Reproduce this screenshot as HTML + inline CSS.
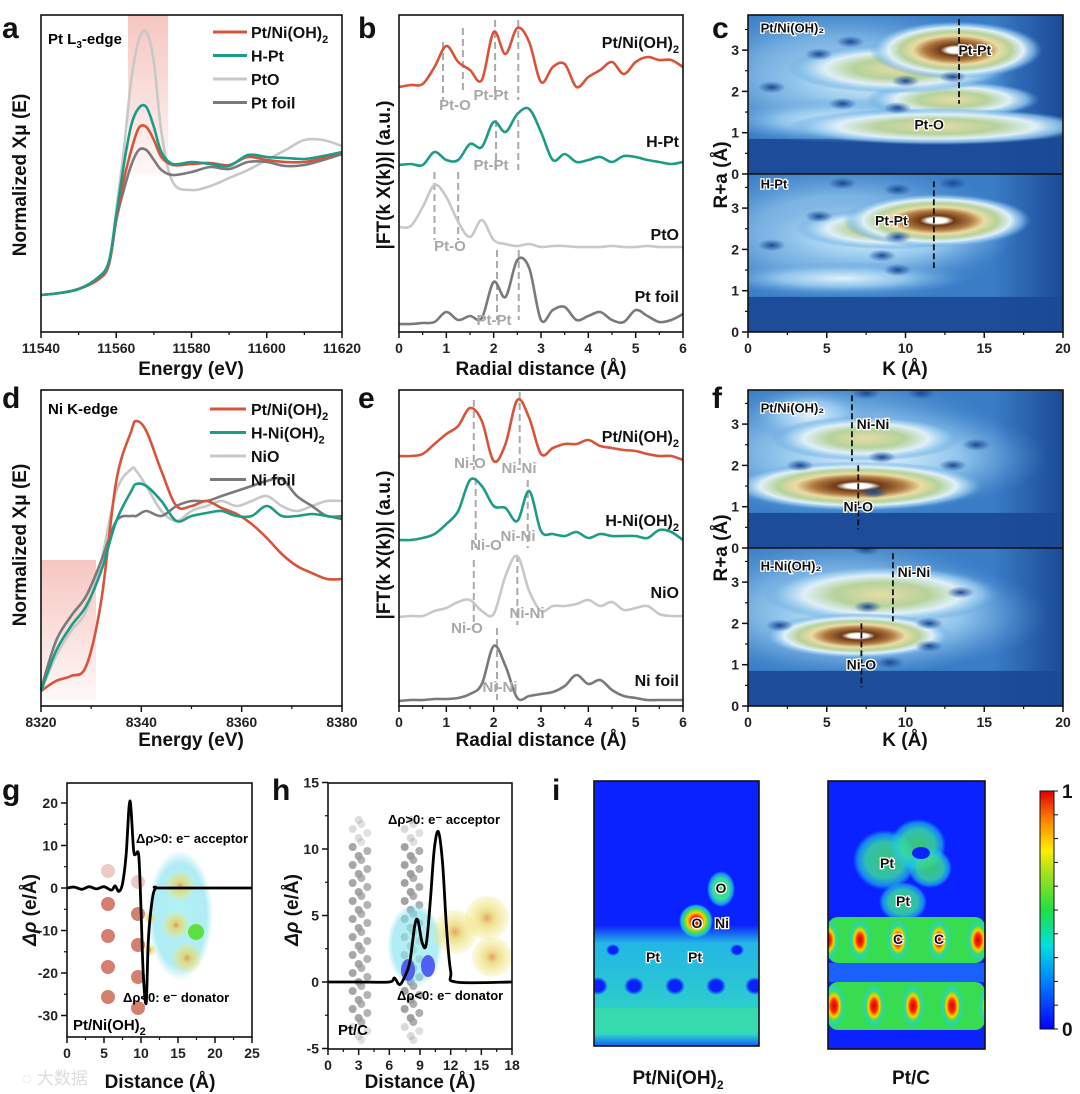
<!DOCTYPE html>
<html><head><meta charset="utf-8"><style>
html,body{margin:0;padding:0;background:#fff;}
svg{display:block;font-family:"Liberation Sans","Noto Sans CJK SC",sans-serif;}
.tk{font-size:14px;font-weight:bold;fill:#222;}
.ax{font-size:19px;font-weight:bold;fill:#111;}
.pl{font-size:30px;font-weight:bold;fill:#111;}
.lg{font-size:16px;font-weight:bold;fill:#111;}
.gl{font-size:15px;font-weight:bold;fill:#a8a8a8;}
.hl{font-size:14px;font-weight:bold;fill:#111;stroke:#fff;stroke-width:2.5px;paint-order:stroke;}
</style></head><body>
<svg id="fig" width="1080" height="1094" viewBox="0 0 1080 1094">
<defs>
<radialGradient id="gHot"><stop offset="0" stop-color="#fff"/><stop offset="0.1" stop-color="#fff"/><stop offset="0.18" stop-color="#6e3a14"/><stop offset="0.36" stop-color="#b07a42"/><stop offset="0.5" stop-color="#eadca2"/><stop offset="0.64" stop-color="#b6d29a"/><stop offset="0.78" stop-color="#dff0f8"/><stop offset="0.9" stop-color="#8cc4ec" stop-opacity="0.7"/><stop offset="1" stop-color="#5a9ad8" stop-opacity="0"/></radialGradient>
<radialGradient id="gWarm"><stop offset="0" stop-color="#e6dca6"/><stop offset="0.4" stop-color="#b6d29a"/><stop offset="0.66" stop-color="#dff0f8"/><stop offset="0.86" stop-color="#8cc4ec" stop-opacity="0.8"/><stop offset="1" stop-color="#5a9ad8" stop-opacity="0"/></radialGradient>
<radialGradient id="gCool"><stop offset="0" stop-color="#e2f2fa"/><stop offset="0.5" stop-color="#9acdf0" stop-opacity="0.85"/><stop offset="1" stop-color="#5a9ad8" stop-opacity="0"/></radialGradient>
<radialGradient id="gDark"><stop offset="0" stop-color="#1a4a96"/><stop offset="1" stop-color="#1a4a96" stop-opacity="0"/></radialGradient>
<radialGradient id="gJet"><stop offset="0" stop-color="#d00000"/><stop offset="0.3" stop-color="#ff3000"/><stop offset="0.5" stop-color="#ffd000"/><stop offset="0.7" stop-color="#40e050"/><stop offset="0.88" stop-color="#20d0e0" stop-opacity="0.8"/><stop offset="1" stop-color="#20d0e0" stop-opacity="0"/></radialGradient>
<radialGradient id="gGreen"><stop offset="0" stop-color="#40e060"/><stop offset="0.6" stop-color="#38dca0"/><stop offset="0.85" stop-color="#20c8e8" stop-opacity="0.7"/><stop offset="1" stop-color="#20c8e8" stop-opacity="0"/></radialGradient>
<radialGradient id="gHole"><stop offset="0" stop-color="#0a20ff"/><stop offset="0.6" stop-color="#0a20ff"/><stop offset="1" stop-color="#0a20ff" stop-opacity="0"/></radialGradient>
<radialGradient id="gCyanB"><stop offset="0" stop-color="#9ff0f0" stop-opacity="0.8"/><stop offset="0.8" stop-color="#7ee0ee" stop-opacity="0.6"/><stop offset="1" stop-color="#7ee0ee" stop-opacity="0"/></radialGradient>
<radialGradient id="gYel"><stop offset="0" stop-color="#e08a40"/><stop offset="0.3" stop-color="#e8d060" stop-opacity="0.9"/><stop offset="1" stop-color="#f0e870" stop-opacity="0.3"/></radialGradient>
<linearGradient id="gPink" x1="0" y1="0" x2="0" y2="1"><stop offset="0" stop-color="#f4b8b0" stop-opacity="0.8"/><stop offset="1" stop-color="#f4b8b0" stop-opacity="0.1"/></linearGradient>
<linearGradient id="gJetBar" x1="0" y1="1" x2="0" y2="0"><stop offset="0" stop-color="#0000ff"/><stop offset="0.2" stop-color="#0080ff"/><stop offset="0.35" stop-color="#00e0e0"/><stop offset="0.5" stop-color="#20e040"/><stop offset="0.65" stop-color="#a0e020"/><stop offset="0.75" stop-color="#ffee00"/><stop offset="0.88" stop-color="#ff8000"/><stop offset="1" stop-color="#e00000"/></linearGradient>
<linearGradient id="gRight" x1="0" y1="0" x2="1" y2="0"><stop offset="0" stop-color="#1a4a96" stop-opacity="0"/><stop offset="1" stop-color="#1a4a96"/></linearGradient>
<linearGradient id="gBandL" x1="0" y1="0" x2="0" y2="1"><stop offset="0" stop-color="#28d0e0" stop-opacity="0"/><stop offset="0.15" stop-color="#28d0e0" stop-opacity="0.85"/><stop offset="0.9" stop-color="#30d8c0"/><stop offset="1" stop-color="#1060ff"/></linearGradient>
<clipPath id="cTop"><rect x="748" y="15" width="315" height="159"/></clipPath>
<clipPath id="cBot"><rect x="748" y="174" width="315" height="158"/></clipPath>
<clipPath id="fTop"><rect x="748" y="390" width="315" height="158"/></clipPath>
<clipPath id="fBot"><rect x="748" y="548" width="315" height="158"/></clipPath>
<clipPath id="iL"><rect x="594" y="781" width="165" height="265"/></clipPath>
<clipPath id="iR"><rect x="828" y="781" width="157" height="268"/></clipPath>
<clipPath id="gClip"><rect x="67" y="783" width="185" height="254"/></clipPath>
<clipPath id="hClip"><rect x="328" y="783" width="184" height="262"/></clipPath>
</defs>

<text class="pl" x="2" y="38">a</text>
<text class="pl" x="358" y="38">b</text>
<text class="pl" x="712" y="38">c</text>
<text class="pl" x="2" y="408">d</text>
<text class="pl" x="358" y="408">e</text>
<text class="pl" x="712" y="408">f</text>
<text class="pl" x="2" y="800">g</text>
<text class="pl" x="272" y="800">h</text>
<text class="pl" x="552" y="800">i</text>

<rect x="128" y="15" width="40" height="160" fill="url(#gPink)"/>
<rect x="41" y="560" width="55" height="140" fill="url(#gPink)"/>

<g id="layer-heat"></g>
<g id="layer-i"></g>
<g id="layer-gh"></g>
<g id="layer-lines"></g>

<text x="48" y="44" style="font-size:15px;font-weight:bold">Pt L<tspan dy="4" font-size="10">3</tspan><tspan dy="-4">-edge</tspan></text>
<text x="48" y="414" style="font-size:15px;font-weight:bold">Ni K-edge</text>
<text class="ax" x="191" y="375" text-anchor="middle">Energy (eV)</text>
<text class="ax" x="191" y="746" text-anchor="middle">Energy (eV)</text>
<text class="ax" x="541" y="375" text-anchor="middle">Radial distance (Å)</text>
<text class="ax" x="541" y="746" text-anchor="middle">Radial distance (Å)</text>
<text class="ax" x="905" y="375" text-anchor="middle">K (Å)</text>
<text class="ax" x="905" y="746" text-anchor="middle">K (Å)</text>
<text class="ax" transform="translate(26,175) rotate(-90)" text-anchor="middle">Normalized Xμ (E)</text>
<text class="ax" transform="translate(26,545) rotate(-90)" text-anchor="middle">Normalized Xμ (E)</text>
<text class="ax" transform="translate(390,175) rotate(-90)" text-anchor="middle">|FT(k X(k))| (a.u.)</text>
<text class="ax" transform="translate(390,545) rotate(-90)" text-anchor="middle">|FT(k X(k))| (a.u.)</text>
<text class="ax" transform="translate(727,175) rotate(-90)" text-anchor="middle">R+a (Å)</text>
<text class="ax" transform="translate(727,548) rotate(-90)" text-anchor="middle">R+a (Å)</text>
<text class="ax" x="160" y="1088" text-anchor="middle">Distance (Å)</text>
<text class="ax" x="420" y="1088" text-anchor="middle">Distance (Å)</text>
<text class="ax" transform="translate(36,910) rotate(-90)" text-anchor="middle"><tspan font-style="italic">Δρ</tspan>  (e/Å)</text>
<text class="ax" transform="translate(298,910) rotate(-90)" text-anchor="middle"><tspan font-style="italic">Δρ</tspan>  (e/Å)</text>
<text class="ax" x="678" y="1084" text-anchor="middle">Pt/Ni(OH)<tspan dy="5" font-size="12">2</tspan></text>
<text class="ax" x="911" y="1084" text-anchor="middle">Pt/C</text>
<text x="22" y="1084" style="font-size:17px;fill:#ddd">◌ 大数据</text>
</svg>
<script>
var NS='http://www.w3.org/2000/svg';
var svg=document.getElementById('fig');
function mk(parent,tag,attrs,name){var el=document.createElementNS(NS,tag);for(var k in attrs)el.setAttribute(k,attrs[k]);


parent.appendChild(el);return el;}
function txt(parent,x,y,s,cls,anchor,name,extra){var t=mk(parent,'text',{x:x,y:y,'class':cls,'text-anchor':anchor||'start'},name);t.textContent=s;if(extra)for(var k in extra)t.setAttribute(k,extra[k]);return t;}

// ---------------- DATA ----------------
var aEnergy=[11540,11545,11550,11555,11558,11560,11562,11564,11566,11568,11570,11572,11575,11580,11585,11590,11595,11600,11605,11610,11615,11620];
var aPtNi=[37,39,43,52,67,112,152,182,204,205,192,175,167,168,169,167,175,172,170,170,174,180];
var aHPt=[37,39,43,54,70,117,167,207,224,225,205,180,168,170,168,166,177,175,174,173,176,180];
var aPtO=[37,39,43,52,67,122,182,252,292,300,270,200,150,142,146,154,162,172,182,192,192,186];
var aPtFoil=[37,39,43,52,67,112,142,167,182,182,172,162,157,160,165,163,170,170,166,167,172,178];

var rGrid=[0,0.25,0.5,0.75,1,1.25,1.5,1.75,2,2.25,2.5,2.75,3,3.25,3.5,3.75,4,4.25,4.5,4.75,5,5.25,5.5,5.75,6];
var bPtNi=[245,247,248,265,286,270,262,252,300,278,304,290,250,265,268,245,255,262,270,258,270,275,272,272,265];
var bHPt=[167,168,167,180,172,172,188,185,210,200,218,223,200,172,178,170,172,175,170,176,175,172,170,168,170];
var bPtO=[105,106,125,147,135,110,95,112,92,88,86,88,85,86,86,85,85,85,86,85,85,86,85,85,85];
var bPtFoil=[8,8,9,10,20,12,16,14,50,35,72,64,12,22,25,12,16,20,12,10,22,16,10,12,18];

var dEnergy=[8320,8323,8326,8329,8332,8335,8338,8339,8341,8344,8347,8350,8353,8356,8359,8362,8365,8368,8371,8374,8377,8380];
var dPtNi=[15,25,30,40,105,225,275,285,275,235,200,200,205,198,192,182,168,152,140,133,127,127];
var dHNi=[15,55,80,100,135,185,215,222,220,205,185,190,193,195,190,190,200,190,190,192,190,187];
var dNiO=[15,50,75,95,145,215,237,235,220,195,185,195,200,205,200,205,210,200,195,200,205,205];
var dNiFoil=[17,65,90,110,145,185,190,190,195,190,200,205,205,210,215,220,225,227,210,200,190,190];

var ePtNi=[250,250,252,262,272,280,298,285,245,262,306,288,252,258,262,262,266,260,258,256,255,252,250,250,246];
var eHNi=[166,166,168,172,182,195,226,220,200,198,185,215,175,172,170,174,168,172,170,170,170,168,176,174,166];
var eNiO=[89,90,90,95,98,104,106,95,92,130,150,115,95,100,100,102,106,100,104,96,98,100,92,90,90];
var eNiFoil=[5,6,6,7,7,8,12,22,60,40,8,10,12,14,20,31,22,26,16,10,8,6,6,6,6];

var gDist=[0,1,2,3,4,5,6,6.5,7,7.5,8,8.5,9,9.3,9.7,10,10.3,10.7,11,11.5,12,13,25];
var gRho=[0,0.2,-0.3,0.3,-0.2,0.3,-0.5,0.5,-0.8,1,8,20.5,9,8,7.5,-5,-20,-27,-12,-3,0,0,0];
var hDist=[0,3,6,6.5,7,7.5,8,8.5,8.8,9.2,9.6,10,10.4,10.8,11.2,11.6,12,12.5,18];
var hRho=[0,0,0,0.3,-0.2,0.4,1.5,4.3,4.6,3,2.8,6,10,11.3,9,4,0.8,0,0];

var cTopBlobs=[[8,2.3,9,1.2,'cool'],[6,1.3,8,0.55,'cool'],[13,1.8,5.5,0.45,'warm'],[9.5,2.55,7,0.6,'warm'],[12,1.15,9.5,0.45,'warm'],[13.2,3.0,5.5,0.7,'hot']];
var cTopDark=[[6.5,3.2],[10,2.25],[4.5,2.9],[13,2.35],[9.5,1.6],[6,1.7],[1.5,2.1]];
var cBotBlobs=[[8,2.3,9,1.0,'cool'],[6,1.3,8,0.4,'cool'],[9,2.5,6,0.5,'warm'],[12,2.7,6,0.65,'hot']];
var cBotDark=[[9.5,3.45],[4.5,2.8],[9.5,2.3],[8.5,1.85],[9.5,1.5],[6,3.6],[13,3.6],[1.5,2.1]];
var fTopBlobs=[[8,2.2,11,1.3,'cool'],[4,3.2,4,0.7,'cool'],[7.5,2.65,6,0.55,'warm'],[7,1.5,8,0.6,'hot']];
var fTopDark=[[3.3,2],[8.5,2.2],[13,2],[14.5,2.5],[7.5,3.75],[11,3.75],[8,1.35]];
var fBotBlobs=[[8,2.2,11,1.4,'cool'],[8.5,2.7,7.5,0.7,'warm'],[7,1.7,6,0.55,'hot']];
var fBotDark=[[7.6,2.4],[11.5,2.0],[13.5,2.75],[11.5,1.45],[2,1.95],[7.5,3.8],[9,1.05]];

// ---------------- helpers ----------------
function smooth(pts){var d='M'+pts[0][0].toFixed(1)+','+pts[0][1].toFixed(1);
for(var i=0;i<pts.length-1;i++){var p0=pts[i-1]||pts[i],p1=pts[i],p2=pts[i+1],p3=pts[i+2]||p2;
var c1x=p1[0]+(p2[0]-p0[0])/6,c1y=p1[1]+(p2[1]-p0[1])/6,c2x=p2[0]-(p3[0]-p1[0])/6,c2y=p2[1]-(p3[1]-p1[1])/6;
d+=' C'+c1x.toFixed(1)+','+c1y.toFixed(1)+' '+c2x.toFixed(1)+','+c2y.toFixed(1)+' '+p2[0].toFixed(1)+','+p2[1].toFixed(1);}return d;}
function series(parent,xs,ys,sx,sy,color,w,name){var pts=xs.map(function(x,i){return [sx(x),sy(ys[i])];});
return mk(parent,'path',{d:smooth(pts),fill:'none',stroke:color,'stroke-width':w,'stroke-linejoin':'round'},name);}
function frame(parent,x0,y0,x1,y1,name){mk(parent,'rect',{x:x0,y:y0,width:x1-x0,height:y1-y0,fill:'none',stroke:'#111','stroke-width':1.6},name);}
function xAxis(parent,sx,yb,ticks,minor,labels,prefix){ticks.forEach(function(t,i){
mk(parent,'line',{x1:sx(t),x2:sx(t),y1:yb,y2:yb+6,stroke:'#111','stroke-width':1.5},prefix+'-x-tick');
txt(parent,sx(t),yb+21,labels[i],'tk','middle',prefix+'-x-tick-label');});
minor.forEach(function(t){mk(parent,'line',{x1:sx(t),x2:sx(t),y1:yb,y2:yb+3,stroke:'#111','stroke-width':1.2},prefix+'-x-minor-tick');});}
function yAxis(parent,sy,xl,ticks,minor,labels,prefix){ticks.forEach(function(t,i){
mk(parent,'line',{x1:xl-6,x2:xl,y1:sy(t),y2:sy(t),stroke:'#111','stroke-width':1.5},prefix+'-y-tick');
txt(parent,xl-9,sy(t)+5,labels[i],'tk','end',prefix+'-y-tick-label');});
minor.forEach(function(t){mk(parent,'line',{x1:xl-3,x2:xl,y1:sy(t),y2:sy(t),stroke:'#111','stroke-width':1.2},prefix+'-y-minor-tick');});}

var L=document.getElementById('layer-lines');
var RED='#d8533a',GRN='#1c9c86',LG='#c8c8c8',DG='#7a7a7a';

// ---------------- panel a ----------------
var axA=function(e){return 41+(e-11540)/80*301;},ayA=function(v){return 332-v;};
series(L,aEnergy,aPtO,axA,ayA,LG,2.6,'a-line-pto');
series(L,aEnergy,aPtFoil,axA,ayA,DG,2.6,'a-line-pt-foil');
series(L,aEnergy,aPtNi,axA,ayA,RED,2.6,'a-line-pt-ni-oh2');
series(L,aEnergy,aHPt,axA,ayA,GRN,2.6,'a-line-h-pt');
frame(L,41,15,342,332,'a-plot-frame');
xAxis(L,axA,332,[11540,11560,11580,11600,11620],[11550,11570,11590,11610],['11540','11560','11580','11600','11620'],'a');
var legA=[['Pt/Ni(OH)','2',RED],['H-Pt','',GRN],['PtO','',LG],['Pt foil','',DG]];
legA.forEach(function(l,i){var y=32+i*23.5;
mk(L,'line',{x1:213,x2:247,y1:y,y2:y,stroke:l[2],'stroke-width':3},'a-legend-swatch');
var t=txt(L,251,y+6,l[0],'lg','start','a-legend-entry');if(l[1]){var s=document.createElementNS(NS,'tspan');s.setAttribute('dy','5');s.setAttribute('font-size','11');s.textContent=l[1];t.appendChild(s);}});

// ---------------- panel b ----------------
var axB=function(r){return 399+r/6*284;},ayB=function(v){return 332-v;};
[[0.93,42,100],[1.35,28,90],[2.03,20,100],[2.52,20,100]].forEach(function(d){mk(L,'line',{x1:axB(d[0]),x2:axB(d[0]),y1:d[1],y2:d[2],stroke:'#aaa','stroke-width':2,'stroke-dasharray':'7,4'},'b-guide-line');});
[[2.05,120,170],[2.52,120,170],[0.75,172,240],[1.25,172,240],[2.07,250,320],[2.53,250,320]].forEach(function(d){mk(L,'line',{x1:axB(d[0]),x2:axB(d[0]),y1:d[1],y2:d[2],stroke:'#aaa','stroke-width':2,'stroke-dasharray':'7,4'},'b-guide-line');});
series(L,rGrid,bPtNi,axB,ayB,RED,2.6,'b-line-pt-ni-oh2');
series(L,rGrid,bHPt,axB,ayB,GRN,2.6,'b-line-h-pt');
series(L,rGrid,bPtO,axB,ayB,LG,2.6,'b-line-pto');
series(L,rGrid,bPtFoil,axB,ayB,DG,2.6,'b-line-pt-foil');
txt(L,455,110,'Pt-O','gl','middle','b-label-pt-o');
txt(L,491,100,'Pt-Pt','gl','middle','b-label-pt-pt');
txt(L,491,170,'Pt-Pt','gl','middle','b-label-pt-pt-2');
txt(L,450,251,'Pt-O','gl','middle','b-label-pt-o-2');
txt(L,494,325,'Pt-Pt','gl','middle','b-label-pt-pt-3');
var bl=txt(L,679,48,'Pt/Ni(OH)','lg','end','b-series-label-pt-ni');var bs=document.createElementNS(NS,'tspan');bs.setAttribute('dy','5');bs.setAttribute('font-size','11');bs.textContent='2';bl.appendChild(bs);
txt(L,679,147,'H-Pt','lg','end','b-series-label-h-pt');
txt(L,679,240,'PtO','lg','end','b-series-label-pto');
txt(L,679,302,'Pt foil','lg','end','b-series-label-pt-foil');
frame(L,399,15,683,332,'b-plot-frame');
xAxis(L,axB,332,[0,1,2,3,4,5,6],[0.5,1.5,2.5,3.5,4.5,5.5],['0','1','2','3','4','5','6'],'b');

// ---------------- panel d ----------------
var axD=function(e){return 41+(e-8320)/60*301;},ayD=function(v){return 706-v;};
series(L,dEnergy,dNiO,axD,ayD,LG,2.6,'d-line-nio');
series(L,dEnergy,dNiFoil,axD,ayD,DG,2.6,'d-line-ni-foil');
series(L,dEnergy,dPtNi,axD,ayD,RED,2.6,'d-line-pt-ni-oh2');
series(L,dEnergy,dHNi,axD,ayD,GRN,2.6,'d-line-h-ni-oh2');
frame(L,41,390,342,706,'d-plot-frame');
xAxis(L,axD,706,[8320,8340,8360,8380],[8330,8350,8370],['8320','8340','8360','8380'],'d');
var legD=[['Pt/Ni(OH)','2',RED],['H-Ni(OH)','2',GRN],['NiO','',LG],['Ni foil','',DG]];
legD.forEach(function(l,i){var y=409+i*23.5;
mk(L,'line',{x1:210,x2:246,y1:y,y2:y,stroke:l[2],'stroke-width':3},'d-legend-swatch');
var t=txt(L,251,y+6,l[0],'lg','start','d-legend-entry');if(l[1]){var s=document.createElementNS(NS,'tspan');s.setAttribute('dy','5');s.setAttribute('font-size','11');s.textContent=l[1];t.appendChild(s);}});

// ---------------- panel e ----------------
var ayE=function(v){return 706-v;};
[[1.58,400,470],[2.55,392,470],[1.62,478,548],[2.72,480,548],[1.58,560,628],[2.5,555,625],[2.07,628,700]].forEach(function(d){mk(L,'line',{x1:axB(d[0]),x2:axB(d[0]),y1:d[1],y2:d[2],stroke:'#aaa','stroke-width':2,'stroke-dasharray':'7,4'},'e-guide-line');});
series(L,rGrid,ePtNi,axB,ayE,RED,2.6,'e-line-pt-ni-oh2');
series(L,rGrid,eHNi,axB,ayE,GRN,2.6,'e-line-h-ni-oh2');
series(L,rGrid,eNiO,axB,ayE,LG,2.6,'e-line-nio');
series(L,rGrid,eNiFoil,axB,ayE,DG,2.6,'e-line-ni-foil');
txt(L,470,468,'Ni-O','gl','middle','e-label-ni-o');
txt(L,519,473,'Ni-Ni','gl','middle','e-label-ni-ni');
txt(L,486,550,'Ni-O','gl','middle','e-label-ni-o-2');
txt(L,518,541,'Ni-Ni','gl','middle','e-label-ni-ni-2');
txt(L,467,633,'Ni-O','gl','middle','e-label-ni-o-3');
txt(L,527,618,'Ni-Ni','gl','middle','e-label-ni-ni-3');
txt(L,500,692,'Ni-Ni','gl','middle','e-label-ni-ni-4');
var el1=txt(L,679,442,'Pt/Ni(OH)','lg','end','e-series-label-pt-ni');var es=document.createElementNS(NS,'tspan');es.setAttribute('dy','5');es.setAttribute('font-size','11');es.textContent='2';el1.appendChild(es);
var el2=txt(L,679,526,'H-Ni(OH)','lg','end','e-series-label-h-ni');var es2=document.createElementNS(NS,'tspan');es2.setAttribute('dy','5');es2.setAttribute('font-size','11');es2.textContent='2';el2.appendChild(es2);
txt(L,679,598,'NiO','lg','end','e-series-label-nio');
txt(L,679,686,'Ni foil','lg','end','e-series-label-ni-foil');
frame(L,399,390,683,706,'e-plot-frame');
xAxis(L,axB,706,[0,1,2,3,4,5,6],[0.5,1.5,2.5,3.5,4.5,5.5],['0','1','2','3','4','5','6'],'e');

// ---------------- wavelet maps c/f ----------------
var H=document.getElementById('layer-heat');
var kx=function(k){return 748+k/20*315;};
function wavelet(clip,y0,blobs,darks,prefix){var g=mk(H,'g',{'clip-path':'url(#'+clip+')'},prefix+'-map');
var ry=function(r){return y0-r*41.3;};
mk(g,'rect',{x:748,y:y0-170,width:315,height:170,fill:'#3a7dc6'},prefix+'-background');
mk(g,'ellipse',{cx:kx(6),cy:ry(2.4),rx:170,ry:75,fill:'url(#gCool)',opacity:0.8},prefix+'-halo');
mk(g,'rect',{x:748,y:ry(0.85),width:315,height:40,fill:'#1c4c9a'},prefix+'-low-r-band');
mk(g,'rect',{x:kx(15.5),y:y0-170,width:kx(20)-kx(15.5),height:170,fill:'url(#gRight)'},prefix+'-high-k-band');
blobs.forEach(function(b){mk(g,'ellipse',{cx:kx(b[0]),cy:ry(b[1]),rx:b[2]/20*315,ry:b[3]*41.3,fill:'url(#g'+(b[4]=='hot'?'Hot':b[4]=='warm'?'Warm':'Cool')+')'},prefix+'-blob');});
darks.forEach(function(d){mk(g,'ellipse',{cx:kx(d[0]),cy:ry(d[1]),rx:14,ry:6,fill:'url(#gDark)'},prefix+'-dark-spot');});
return ry;}
var ryCT=wavelet('cTop',174,cTopBlobs,cTopDark,'c-top');
var ryCB=wavelet('cBot',332,cBotBlobs,cBotDark,'c-bottom');
var ryFT=wavelet('fTop',548,fTopBlobs,fTopDark,'f-top');
var ryFB=wavelet('fBot',706,fBotBlobs,fBotDark,'f-bottom');
function dash(x,y1,y2,name){mk(H,'line',{x1:x,x2:x,y1:y1,y2:y2,stroke:'#111','stroke-width':1.8,'stroke-dasharray':'6,3'},name);}
dash(kx(13.4),ryCT(3.75),ryCT(1.7),'c-top-marker');
dash(kx(11.8),ryCB(3.65),ryCB(1.55),'c-bottom-marker');
dash(kx(6.6),ryFT(3.7),ryFT(2.1),'f-top-marker-ni-ni');
dash(kx(7.0),ryFT(2.0),ryFT(0.45),'f-top-marker-ni-o');
dash(kx(9.2),ryFB(3.7),ryFB(2.05),'f-bottom-marker-ni-ni');
dash(kx(7.2),ryFB(2.0),ryFB(0.45),'f-bottom-marker-ni-o');
txt(H,kx(14.4),ryCT(3.0)+5,'Pt-Pt','hl','middle','c-label-pt-pt');
txt(H,kx(11.5),ryCT(1.2)+5,'Pt-O','hl','middle','c-label-pt-o');
txt(H,kx(9.1),ryCB(2.7)+5,'Pt-Pt','hl','middle','c-label-pt-pt-2');
txt(H,kx(0.8),ryCT(3.55)+5,'Pt/Ni(OH)₂','hl','start','c-sample-label-top',{style:'font-size:13px'});
txt(H,kx(0.8),ryCB(3.6)+5,'H-Pt','hl','start','c-sample-label-bottom',{style:'font-size:13px'});
txt(H,kx(6.9),ryFT(3.0)+5,'Ni-Ni','hl','start','f-label-ni-ni');
txt(H,kx(7.0),ryFT(1.0)+5,'Ni-O','hl','middle','f-label-ni-o');
txt(H,kx(9.5),ryFB(3.25)+5,'Ni-Ni','hl','start','f-label-ni-ni-2');
txt(H,kx(7.2),ryFB(1.0)+5,'Ni-O','hl','middle','f-label-ni-o-2');
txt(H,kx(0.8),ryFT(3.4)+5,'Pt/Ni(OH)₂','hl','start','f-sample-label-top',{style:'font-size:13px'});
txt(H,kx(0.8),ryFB(3.4)+5,'H-Ni(OH)₂','hl','start','f-sample-label-bottom',{style:'font-size:13px'});
[[174,'c'],[332,'c'],[548,'f'],[706,'f']].forEach(function(p){var y0=p[0];
var sy=function(r){return y0-r*41.3;};
yAxis(H,sy,748,[0,1,2,3],[0.5,1.5,2.5,3.5],['0','1','2','3'],p[1]);});
frame(H,748,15,1063,332,'c-plot-frame');
mk(H,'line',{x1:748,x2:1063,y1:174,y2:174,stroke:'#111','stroke-width':1.6},'c-divider');
frame(H,748,390,1063,706,'f-plot-frame');
mk(H,'line',{x1:748,x2:1063,y1:548,y2:548,stroke:'#111','stroke-width':1.6},'f-divider');
xAxis(H,kx,332,[0,5,10,15,20],[2.5,7.5,12.5,17.5],['0','5','10','15','20'],'c');
xAxis(H,kx,706,[0,5,10,15,20],[2.5,7.5,12.5,17.5],['0','5','10','15','20'],'f');

// ---------------- panel i ----------------
var I=document.getElementById('layer-i');
var il=mk(I,'g',{'clip-path':'url(#iL)'},'i-left-map');
mk(il,'rect',{x:594,y:781,width:165,height:265,fill:'#0a22ff'},'i-left-background');
mk(il,'rect',{x:594,y:925,width:165,height:121,fill:'url(#gBandL)'},'i-left-surface-band');
[598,634,675,716,755].forEach(function(x){mk(il,'ellipse',{cx:x,cy:986,rx:10,ry:9,fill:'url(#gHole)'},'i-left-hole');});
[613,737].forEach(function(x){mk(il,'ellipse',{cx:x,cy:950,rx:7,ry:6,fill:'url(#gHole)'},'i-left-hole-small');});
mk(il,'rect',{x:594,y:1008,width:165,height:24,fill:'#40e0a0',opacity:0.6},'i-left-lower-band');
mk(il,'ellipse',{cx:721,cy:889,rx:14,ry:18,fill:'url(#gGreen)'},'i-left-o-top');
mk(il,'ellipse',{cx:696,cy:921,rx:17,ry:17,fill:'url(#gJet)'},'i-left-o-red');
txt(I,653,962,'Pt','hl','middle','i-label-pt-1');
txt(I,695,962,'Pt','hl','middle','i-label-pt-2');
txt(I,697,928,'O','hl','middle','i-label-o-1');
txt(I,722,928,'Ni','hl','middle','i-label-ni');
txt(I,721,893,'O','hl','middle','i-label-o-2');
frame(I,594,781,759,1046,'i-left-frame');
var ir=mk(I,'g',{'clip-path':'url(#iR)'},'i-right-map');
mk(ir,'rect',{x:828,y:781,width:157,height:268,fill:'#0a22ff'},'i-right-background');
[[885,860,32,30],[918,845,28,26],[930,868,22,20],[903,902,24,20]].forEach(function(c){mk(ir,'ellipse',{cx:c[0],cy:c[1],rx:c[2],ry:c[3],fill:'url(#gGreen)',opacity:0.85},'i-right-pt-cloud');});
mk(ir,'ellipse',{cx:921,cy:853,rx:9,ry:6,fill:'#0a22ff'},'i-right-cloud-hole');
mk(ir,'rect',{x:828,y:917,width:157,height:46,rx:10,fill:'#38dc50'},'i-right-band-1');
mk(ir,'rect',{x:828,y:982,width:157,height:48,rx:10,fill:'#38dc50'},'i-right-band-2');
mk(ir,'rect',{x:828,y:963,width:157,height:19,fill:'#1a60ff'},'i-right-gap');
[828,860,898,939,978].forEach(function(x){mk(ir,'ellipse',{cx:x,cy:940,rx:11,ry:20,fill:'url(#gJet)'},'i-right-c-atom-row1');});
[834,874,913,952,990].forEach(function(x){mk(ir,'ellipse',{cx:x,cy:1006,rx:11,ry:21,fill:'url(#gJet)'},'i-right-atom-row2');});
txt(I,887,868,'Pt','hl','middle','i-label-pt-3');
txt(I,903,906,'Pt','hl','middle','i-label-pt-4');
txt(I,898,944,'C','hl','middle','i-label-c-1');
txt(I,939,944,'C','hl','middle','i-label-c-2');
frame(I,828,781,985,1049,'i-right-frame');
mk(I,'rect',{x:1040,y:791,width:14,height:238,fill:'url(#gJetBar)',stroke:'#111','stroke-width':1},'colorbar');
for(var t=0;t<=10;t++){mk(I,'line',{x1:1054,x2:1058,y1:791+t*23.8,y2:791+t*23.8,stroke:'#111','stroke-width':1},'colorbar-tick');}
txt(I,1062,798,'1','ax','start','colorbar-max-label');
txt(I,1062,1036,'0','ax','start','colorbar-min-label');

// ---------------- panels g/h ----------------
var G=document.getElementById('layer-gh');
var gxs=function(d){return 67+d/25*185;},gys=function(v){return 888-v*4.25;};
var gg=mk(G,'g',{'clip-path':'url(#gClip)'},'g-structure');
mk(gg,'ellipse',{cx:180,cy:915,rx:33,ry:65,fill:'url(#gCyanB)'},'g-cyan-isosurface');
[[108,871],[108,904],[108,936],[108,967],[108,997],[138,882],[138,914],[138,945],[138,977],[138,1008]].forEach(function(p,i){mk(gg,'circle',{cx:p[0],cy:p[1],r:7,fill:'#cc6a55',opacity:i%5==0?0.35:0.85},'g-atom');});
[[180,886,14],[176,925,13],[187,958,14],[150,918,6],[150,950,6]].forEach(function(p){mk(gg,'circle',{cx:p[0],cy:p[1],r:p[2],fill:'url(#gYel)',opacity:0.85},'g-yellow-isosurface');});
mk(gg,'circle',{cx:196,cy:932,r:8,fill:'#60e040'},'g-green-atom');
series(G,gDist,gRho,gxs,gys,'#000',2.8,'g-line-delta-rho');
frame(G,67,783,252,1037,'g-plot-frame');
xAxis(G,gxs,1037,[0,5,10,15,20,25],[2.5,7.5,12.5,17.5,22.5],['0','5','10','15','20','25'],'g');
yAxis(G,gys,67,[20,10,0,-10,-20,-30],[15,5,-5,-15,-25],['20','10','0','-10','-20','-30'],'g');
txt(G,136,843,'Δρ>0: e⁻ acceptor','','start','g-acceptor-note',{style:'font-size:13px;font-weight:bold'});
txt(G,123,1002,'Δρ<0: e⁻ donator','','start','g-donator-note',{style:'font-size:13px;font-weight:bold'});
var gl=txt(G,73,1030,'Pt/Ni(OH)','','start','g-sample-label',{style:'font-size:15px;font-weight:bold'});var gs=document.createElementNS(NS,'tspan');gs.setAttribute('dy','5');gs.setAttribute('font-size','11');gs.textContent='2';gl.appendChild(gs);

var hxs=function(d){return 328+d/18*184;},hys=function(v){return 982-v*13.3;};
var hg=mk(G,'g',{'clip-path':'url(#hClip)'},'h-structure');
[[358,0.75],[410,0.8]].forEach(function(c){for(var y=820;y<1040;y+=9){mk(hg,'circle',{cx:c[0]-6+((y/9)%2)*6,cy:y,r:4,fill:'#8a8a8a',opacity:c[1]*(y<840||y>1020?0.4:1)},'h-carbon-atom');mk(hg,'circle',{cx:c[0]+10-((y/9)%2)*6,cy:y+4,r:4,fill:'#9a9a9a',opacity:c[1]*(y<840||y>1020?0.4:1)},'h-carbon-atom');}});
mk(hg,'ellipse',{cx:415,cy:945,rx:28,ry:42,fill:'url(#gCyanB)'},'h-cyan-isosurface');
[[408,970],[428,966]].forEach(function(p){mk(hg,'ellipse',{cx:p[0],cy:p[1],rx:7,ry:11,fill:'#5060f0'},'h-blue-isosurface');});
[[455,932,22],[487,918,22],[492,957,20]].forEach(function(p){mk(hg,'circle',{cx:p[0],cy:p[1],r:p[2],fill:'url(#gYel)',opacity:0.8},'h-yellow-isosurface');});
series(G,hDist,hRho,hxs,hys,'#000',2.8,'h-line-delta-rho');
frame(G,328,783,512,1049,'h-plot-frame');
xAxis(G,hxs,1049,[0,3,6,9,12,15,18],[1.5,4.5,7.5,10.5,13.5,16.5],['0','3','6','9','12','15','18'],'h');
yAxis(G,hys,328,[15,10,5,0,-5],[12.5,7.5,2.5,-2.5],['15','10','5','0','-5'],'h');
txt(G,388,824,'Δρ>0: e⁻ acceptor','','start','h-acceptor-note',{style:'font-size:13px;font-weight:bold'});
txt(G,397,1000,'Δρ<0: e⁻ donator','','start','h-donator-note',{style:'font-size:13px;font-weight:bold'});
txt(G,338,1035,'Pt/C','','start','h-sample-label',{style:'font-size:15px;font-weight:bold'});
</script>
</body></html>
